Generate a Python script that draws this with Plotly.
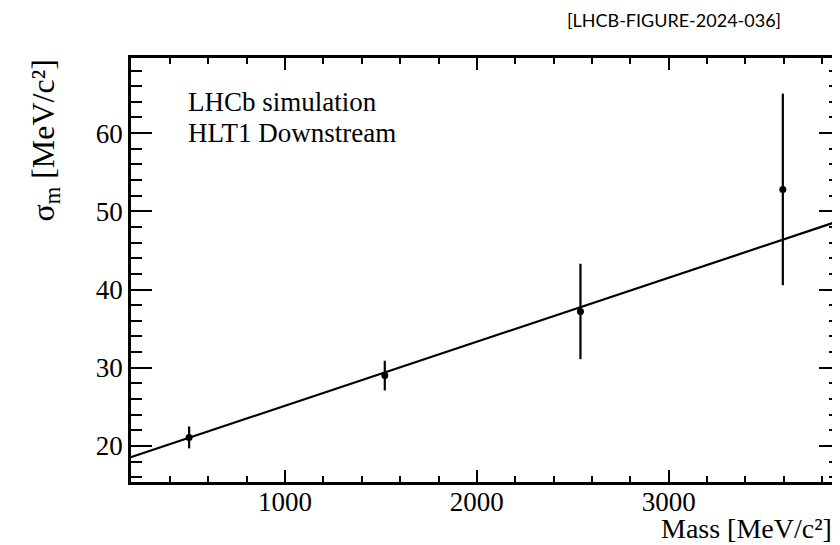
import plotly.graph_objects as go

# Data
mass = [500, 1520, 2540, 3595]
sigma = [21.1, 29.0, 37.2, 52.8]
sigma_err = [1.4, 1.9, 6.1, 12.25]

fit_slope = 0.00818
fit_intercept = 16.97
fit_x = [195, 3880]
fit_y = [fit_intercept + fit_slope * v for v in fit_x]

x_range = [197, 3893]
y_range = [15.4, 69.6]
x_ticks = [1000, 2000, 3000]
y_ticks = [20, 30, 40, 50, 60]

serif = "Liberation Serif, Times New Roman, serif"

fig = go.Figure()
fig.add_trace(go.Scatter(x=fit_x, y=fit_y, mode="lines",
                         line=dict(color="black", width=2.2), showlegend=False))
fig.add_trace(go.Scatter(x=mass, y=sigma, mode="markers",
                         marker=dict(color="black", size=7),
                         error_y=dict(type="data", array=sigma_err, width=0,
                                      thickness=2.2, color="black"),
                         showlegend=False))

axis_common = dict(showgrid=False, zeroline=False, showline=True, linecolor="black",
                   linewidth=2.5, mirror="ticks", ticks="inside", tickcolor="black",
                   tickwidth=2, tickfont=dict(family=serif, size=27, color="black"))

fig.update_xaxes(range=x_range, tickvals=x_ticks, ticklen=12, ticklabelstandoff=-6,
                 minor=dict(dtick=200, ticks="inside", ticklen=6, tickwidth=2, tickcolor="black"),
                 **axis_common)
fig.update_yaxes(range=y_range, tickvals=y_ticks, ticklen=21,
                 minor=dict(dtick=2, ticks="inside", ticklen=11, tickwidth=2, tickcolor="black"),
                 **axis_common)

fig.add_annotation(text="LHCb simulation", xref="paper", yref="paper",
                   x=0.077, y=0.896, xanchor="left", yanchor="middle", showarrow=False,
                   font=dict(family=serif, size=27, color="black"))
fig.add_annotation(text="HLT1 Downstream", xref="paper", yref="paper",
                   x=0.077, y=0.823, xanchor="left", yanchor="middle", showarrow=False,
                   font=dict(family=serif, size=27, color="black"))
fig.add_annotation(text="Mass [MeV/c²]", xref="paper", yref="paper",
                   x=0.992, y=-0.152, xanchor="right", yanchor="bottom", showarrow=False,
                   font=dict(family=serif, size=28, color="black"))
fig.add_annotation(text="σ<sub>m</sub> [MeV/c²]", xref="paper", yref="paper",
                   x=-0.122, y=1.0, xanchor="center", yanchor="top", showarrow=False, textangle=-90,
                   font=dict(family=serif, size=32, color="black"))
fig.add_annotation(text="[LHCB-FIGURE-2024-036]", xref="paper", yref="paper",
                   x=0.92, y=1.06, xanchor="right", yanchor="bottom", showarrow=False,
                   font=dict(family="Lato, Open Sans, sans-serif", size=18, color="black"))

fig.update_layout(width=840, height=545, margin=dict(l=123, r=5, t=50, b=71),
                  plot_bgcolor="white", paper_bgcolor="white")

fig.write_html("out.html")
